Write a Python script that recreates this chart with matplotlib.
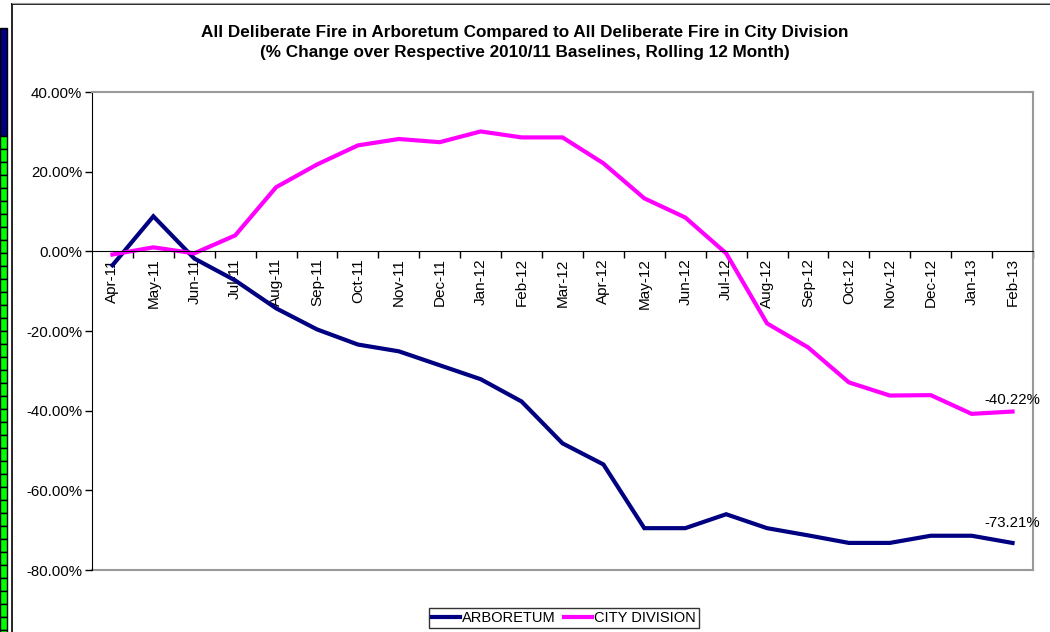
import matplotlib
matplotlib.use("Agg")
import matplotlib.pyplot as plt
from matplotlib.patches import Rectangle
from matplotlib.ticker import FuncFormatter

plt.rcParams["font.family"] = ["Liberation Sans", "DejaVu Sans"]

months = ["Apr-11", "May-11", "Jun-11", "Jul-11", "Aug-11", "Sep-11", "Oct-11", "Nov-11",
          "Dec-11", "Jan-12", "Feb-12", "Mar-12", "Apr-12", "May-12", "Jun-12", "Jul-12",
          "Aug-12", "Sep-12", "Oct-12", "Nov-12", "Dec-12", "Jan-13", "Feb-13"]
arboretum = [-3.5, 8.8, -1.8, -7.3, -14.3, -19.6, -23.4, -25.1, -28.6, -32.1, -37.7, -48.2,
             -53.5, -69.5, -69.5, -66.0, -69.5, -71.3, -73.2, -73.2, -71.4, -71.4, -73.21]
city = [-0.8, 1.0, -0.5, 4.0, 16.1, 21.8, 26.6, 28.2, 27.4, 30.1, 28.6, 28.6,
        22.1, 13.3, 8.5, -0.5, -18.1, -24.1, -32.9, -36.2, -36.1, -40.8, -40.22]
yticks = [40, 20, 0, -20, -40, -60, -80]

NAVY = "#000080"
MAG = "#FF00FF"

fig = plt.figure(figsize=(10.5, 6.32), dpi=100)
fig.patch.set_facecolor("white")

# chart area border and spreadsheet remnant on the left
W, H = 1050, 632
fig.add_artist(plt.Line2D([12 / W, 12 / W], [0, 1 - 4 / H], color="black", lw=1.2, transform=fig.transFigure))
fig.add_artist(plt.Line2D([12 / W, 1], [1 - 4 / H, 1 - 4 / H], color="black", lw=1.2, transform=fig.transFigure))
fig.add_artist(plt.Line2D([12 / W, 1], [1 - 3 / H, 1 - 3 / H], color="#999999", lw=0.8, transform=fig.transFigure))
fig.add_artist(Rectangle((0, 1 - 136 / H), 7 / W, 108 / H, transform=fig.transFigure,
                         fc="#000080", ec="black", lw=1.0))
y0 = 136
while y0 < H:
    fig.add_artist(Rectangle((0, 1 - (y0 + 13) / H), 7 / W, 13 / H, transform=fig.transFigure,
                             fc="#00FF00", ec="black", lw=1.0))
    y0 += 13

ax = fig.add_axes([92 / W, 1 - 570 / H, 941 / W, 478 / H])
x = list(range(len(months)))
l1, = ax.plot(x, arboretum, color=NAVY, lw=3, label="ARBORETUM", solid_joinstyle="miter")
l2, = ax.plot(x, city, color=MAG, lw=3, label="CITY DIVISION", solid_joinstyle="miter")

ax.set_xlim(-0.5, len(months) - 0.5)
ax.set_ylim(-80, 40)
ax.set_yticks(yticks)
ax.yaxis.set_major_formatter(FuncFormatter(lambda v, p: f"{v:.2f}%"))
ax.tick_params(axis="y", direction="out", length=5, width=1, labelsize=10.8, pad=2)

ax.spines["bottom"].set_position(("data", 0))
ax.spines["bottom"].set_color("black")
ax.spines["left"].set_color("black")
ax.spines["top"].set_color("#999999")
ax.spines["right"].set_color("#999999")
for s in ["top", "right"]:
    ax.spines[s].set_linewidth(1.5)
ax.set_xticks(x)
ax.set_xticklabels(months, rotation=90, fontsize=11)
ax.set_xticks([i + 0.5 for i in x], minor=True)
ax.tick_params(axis="x", which="major", length=0, pad=5)
ax.tick_params(axis="x", which="minor", direction="out", length=5, width=1)

# bottom outline of plot area (gray)
ax.plot([-0.5, len(months) - 0.5], [-80, -80], color="#999999", lw=1.5, clip_on=False, zorder=1)

ax.annotate(f"{arboretum[-1]:.2f}%", (x[-1], arboretum[-1]), xytext=(0, 9), textcoords="offset points",
            ha="center", va="bottom", fontsize=10.8)
ax.annotate(f"{city[-1]:.2f}%", (x[-1], city[-1]), xytext=(0, 3), textcoords="offset points",
            ha="center", va="bottom", fontsize=10.8)

fig.text(0.5, 1 - 32 / H, "All Deliberate Fire in Arboretum Compared to All Deliberate Fire in City Division",
         ha="center", va="center", fontsize=12.3, fontweight="bold")
fig.text(0.5, 1 - 53 / H, "(% Change over Respective 2010/11 Baselines, Rolling 12 Month)",
         ha="center", va="center", fontsize=12.3, fontweight="bold")

leg = fig.legend(handles=[l1, l2], loc="center", bbox_to_anchor=(564 / W, 1 - 618 / H), ncol=2,
                 frameon=True, fancybox=False, fontsize=10.5, handlelength=1.9, handletextpad=0.15,
                 columnspacing=0.6, borderpad=0.2, edgecolor="black")
leg.get_frame().set_linewidth(1.0)

fig.savefig("out.png", dpi=100, facecolor="white")
